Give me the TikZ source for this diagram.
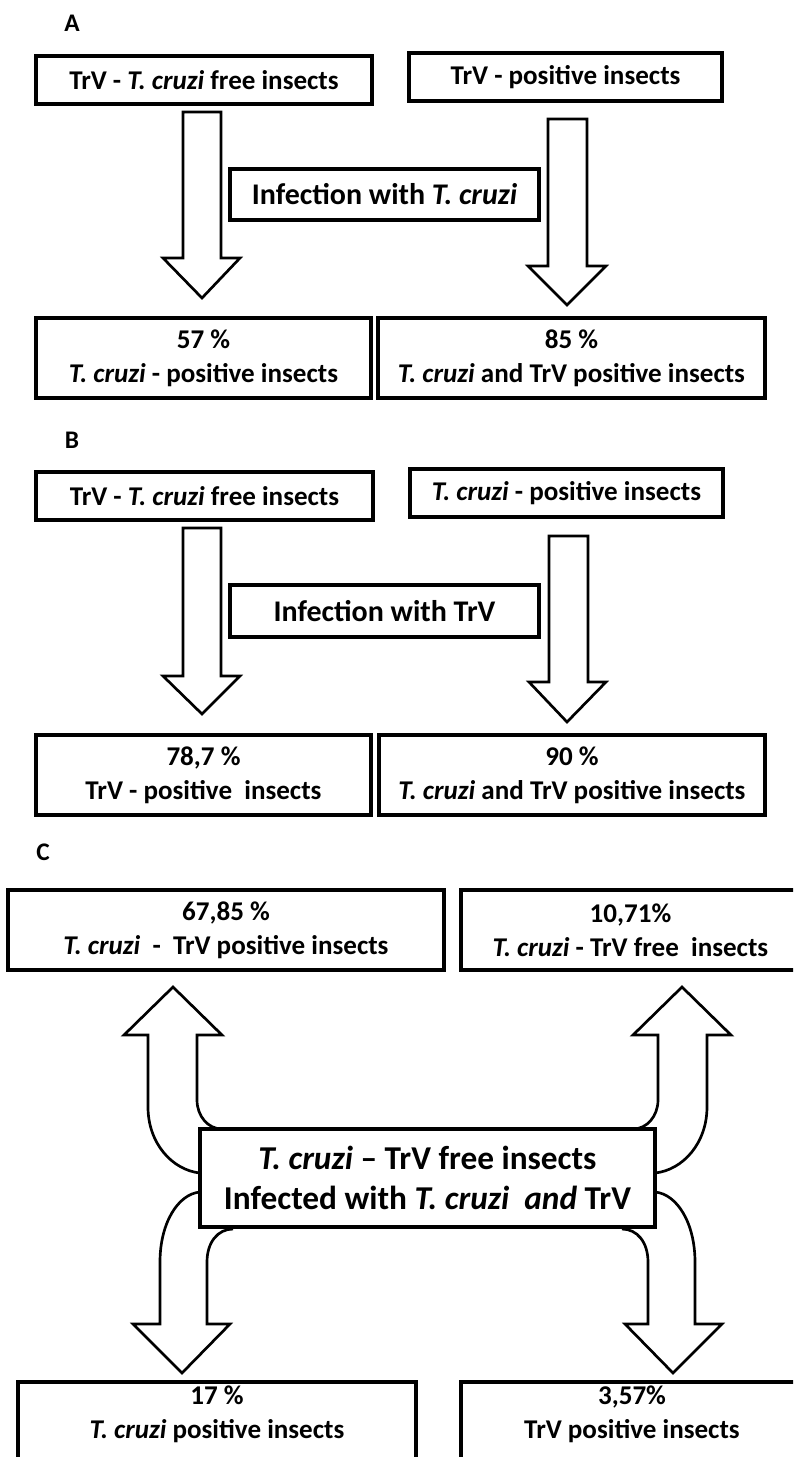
\documentclass[tikz,border=0pt]{standalone}
\usepackage{fontspec}
\setmainfont{Carlito}
\usetikzlibrary{fit}
\begin{document}
\begin{tikzpicture}[x=0.75pt,y=-0.75pt,
  box/.style={draw, line width=3pt, inner sep=0pt},
  blk/.style={draw, line width=2pt, fill=white, line join=miter},
  curv/.style={draw, line width=2pt},
  lbl/.style={font=\bfseries\fontsize{19}{22}\selectfont, inner sep=0pt},
  toptxt/.style={font=\bfseries\fontsize{20.3}{25}\selectfont, align=center, inner sep=0pt},
  midtxt/.style={font=\bfseries\fontsize{22.5}{26}\selectfont, align=center, inner sep=0pt},
  bottxt/.style={font=\bfseries\fontsize{20.3}{25.5}\selectfont, align=center, inner sep=0pt},
  maintxt/.style={font=\bfseries\fontsize{25}{30}\selectfont, align=center, inner sep=0pt}]
\clip (0,0) rectangle (793,1457);
\fill[white] (0,0) rectangle (793,1457);

% ---------------- A ----------------
\node[lbl] (la) at (72,23) {A};
\node[box, fit={(36,56)(372,104)}] (a1) {};
\node[toptxt] (a1t) at (a1.center) {TrV - \textit{T. cruzi} free insects};
\node[box, fit={(409,53)(722,101)}] (a2) {};
\node[toptxt] (a2t) at (a2.center) {TrV - positive insects};
\draw[blk] (183,112) -- (183,258) -- (163,258) -- (202,298) -- (240,258) -- (221,258) -- (221,112) -- cycle;
\draw[blk] (548,119) -- (548,266) -- (528,266) -- (567,305) -- (606,266) -- (587,266) -- (587,119) -- cycle;
\node[box, fit={(230,169)(539,220)}] (a3) {};
\node[midtxt] (a3t) at (a3.center) {Infection with \textit{T. cruzi}};
\node[box, fit={(36,318)(371,398)}] (a4) {};
\node[bottxt] (a4t) at (a4.center) {57 \%\\\textit{T. cruzi} - positive insects};
\node[box, fit={(378,318)(765,398)}] (a5) {};
\node[bottxt] (a5t) at (a5.center) {85 \%\\\textit{T. cruzi} and TrV positive insects};

% ---------------- B ----------------
\node[lbl] (lb) at (72,440) {B};
\node[box, fit={(36,472)(373,520)}] (b1) {};
\node[toptxt] (b1t) at (b1.center) {TrV - \textit{T. cruzi} free insects};
\node[box, fit={(410,469)(723,517)}] (b2) {};
\node[toptxt] (b2t) at (b2.center) {\textit{T. cruzi} - positive insects};
\draw[blk] (183,528) -- (183,676) -- (163,676) -- (202,714) -- (240,676) -- (221,676) -- (221,528) -- cycle;
\draw[blk] (549,536) -- (549,682) -- (529,682) -- (567,722) -- (606,682) -- (588,682) -- (588,536) -- cycle;
\node[box, fit={(230,585)(539,637)}] (b3) {};
\node[midtxt] (b3t) at (b3.center) {Infection with TrV};
\node[box, fit={(36,735)(371,815)}] (b4) {};
\node[bottxt] (b4t) at (b4.center) {78,7 \%\\TrV - positive\ \ insects};
\node[box, fit={(379,735)(765,815)}] (b5) {};
\node[bottxt] (b5t) at (b5.center) {90 \%\\\textit{T. cruzi} and TrV positive insects};

% ---------------- C ----------------
\node[lbl] (lc) at (43,852) {C};
\node[box, fit={(8,890)(444,970)}] (c1) {};
\node[bottxt] (c1t) at (c1.center) {67,85 \%\\\textit{T. cruzi}\ \ -\ \ TrV positive insects};
\node[box, fit={(461,890)(800,970)}] (c2) {};
\node[bottxt] (c2t) at (c2.center) {10,71\%\\\textit{T. cruzi} - TrV free\ \ insects};

% curved block arrows
\draw[curv] (200,1173) .. controls (172,1170) and (148,1143) .. (148,1107)
  -- (148,1035) -- (124,1035) -- (173,987) -- (222,1035) -- (197,1035) -- (197,1100)
  .. controls (197,1116) and (208,1129) .. (222,1129);
\draw[curv] (655,1173) .. controls (683,1170) and (707,1143) .. (707,1107)
  -- (707,1035) -- (731,1035) -- (682,987) -- (633,1035) -- (658,1035) -- (658,1100)
  .. controls (658,1116) and (647,1129) .. (633,1129);
\draw[curv] (200,1192) .. controls (178,1194) and (160,1223) .. (160,1262)
  -- (160,1324) -- (133,1324) -- (182,1373) -- (230,1324) -- (207,1324) -- (207,1262)
  .. controls (207,1242) and (218,1229) .. (233,1229);
\draw[curv] (655,1192) .. controls (677,1194) and (695,1223) .. (695,1262)
  -- (695,1324) -- (722,1324) -- (673,1373) -- (625,1324) -- (648,1324) -- (648,1262)
  .. controls (648,1242) and (637,1229) .. (622,1229);

\node[box, fit={(200,1129)(655,1227)}] (c0) {};
\node[maintxt] (c0t) at (c0.center) {\textit{T. cruzi} – TrV free insects\\Infected with \textit{T. cruzi}\ \ \textit{and} TrV};

\node[box, fit={(18,1382)(416,1480)}] (c3) {};
\node[bottxt] (c3t) at (217,1414) {17 \%\\\textit{T. cruzi} positive insects};
\node[box, fit={(461,1382)(800,1480)}] (c4) {};
\node[bottxt] (c4t) at (632,1414) {3,57\%\\TrV positive insects};
\end{tikzpicture}
\end{document}
